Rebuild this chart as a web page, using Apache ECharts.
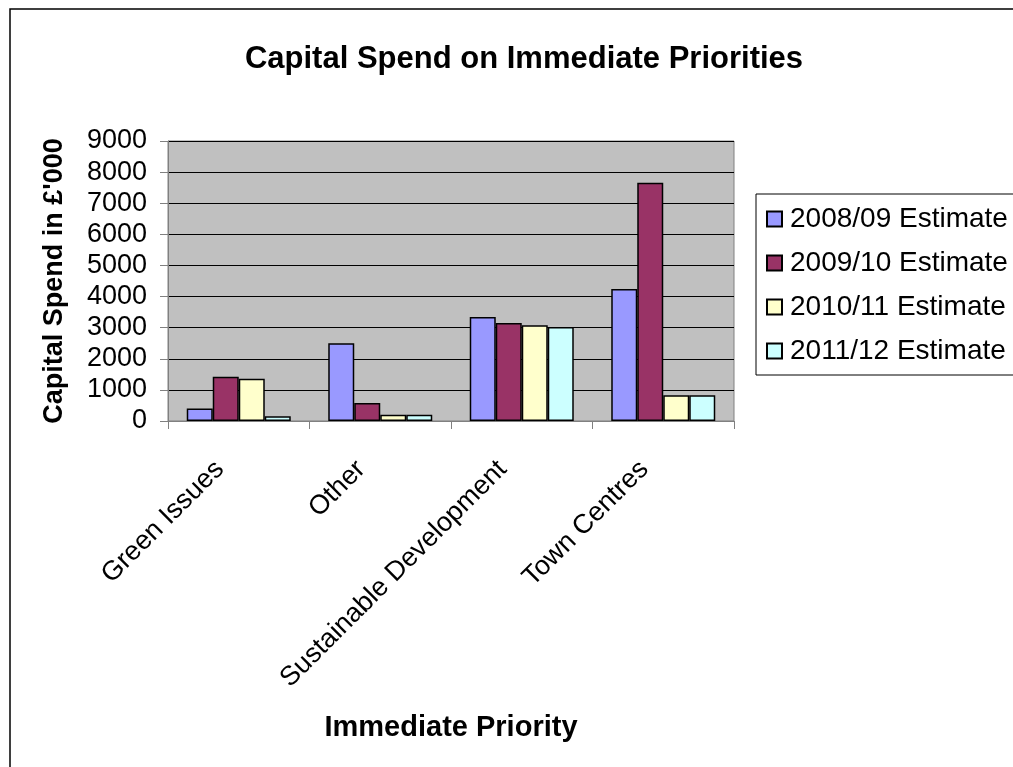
<!DOCTYPE html>
<html>
<head>
<meta charset="utf-8">
<script src="https://cdn.jsdelivr.net/npm/echarts@6/dist/echarts.min.js"></script>
<style>html,body{margin:0;padding:0;background:#fff}#c{width:1013px;height:767px}</style>
</head>
<body>
<div id="c"></div>
<script>
const categories = ['Green Issues', 'Other', 'Sustainable Development', 'Town Centres'];
const seriesNames = ['2008/09 Estimate', '2009/10 Estimate', '2010/11 Estimate', '2011/12 Estimate'];
const s2008 = [400, 2500, 3340, 4240];
const s2009 = [1420, 580, 3150, 7660];
const s2010 = [1360, 200, 3080, 830];
const s2011 = [150, 200, 3020, 830];
const colors = ['#9999FF', '#993366', '#FFFFCC', '#CCFFFF'];
const allData = [s2008, s2009, s2010, s2011];

const chart = echarts.init(document.getElementById('c'));
const font = 'Arial, "Liberation Sans", sans-serif';
chart.setOption({
  animation: false,
  backgroundColor: '#fff',
  textStyle: { fontFamily: font },
  title: {
    text: 'Capital Spend on Immediate Priorities',
    left: 519, top: 39, textAlign: 'center',
    textStyle: { fontSize: 31, fontWeight: 'bold', color: '#000', fontFamily: font }
  },
  graphic: [{
    type: 'rect', shape: { x: 10, y: 9, width: 1100, height: 900 },
    style: { fill: null, stroke: '#000', lineWidth: 1.5 }, silent: true
  }],
  legend: {
    orient: 'vertical', left: 756, top: 194,
    data: seriesNames,
    backgroundColor: '#fff',
    borderColor: '#000', borderWidth: 1,
    padding: [11, 10, 10, 10],
    itemGap: 16, itemWidth: 15, itemHeight: 15, icon: 'rect',
    textStyle: { fontSize: 28, color: '#000', fontFamily: font, padding: [0, 0, 0, 3] }
  },
  grid: {
    left: 168, top: 141, width: 566, height: 280,
    show: true, backgroundColor: '#C0C0C0', borderColor: '#808080', borderWidth: 1
  },
  xAxis: {
    type: 'category', data: categories,
    name: 'Immediate Priority', nameLocation: 'middle', nameGap: 292,
    nameTextStyle: { fontSize: 29, fontWeight: 'bold', color: '#000', fontFamily: font },
    axisLine: { lineStyle: { color: '#808080', width: 1 } },
    axisTick: { show: true, length: 8, lineStyle: { color: '#808080' } },
    axisLabel: { rotate: 45, fontSize: 27, color: '#000', margin: 25, padding: [0, 27, 0, 0], fontFamily: font, interval: 0 }
  },
  yAxis: {
    type: 'value', min: 0, max: 9000, interval: 1000,
    name: "Capital Spend in £'000", nameLocation: 'middle', nameGap: 100, nameRotate: 90,
    nameTextStyle: { fontSize: 27, fontWeight: 'bold', color: '#000', fontFamily: font },
    axisLine: { show: true, lineStyle: { color: '#808080', width: 1 } },
    axisTick: { show: true, length: 8, lineStyle: { color: '#808080' } },
    axisLabel: { fontSize: 27, color: '#000', margin: 21, fontFamily: font, formatter: v => String(v) },
    splitLine: { show: true, lineStyle: { color: '#000', width: 1 } }
  },
  series: seriesNames.map((n, i) => ({
    name: n, type: 'bar', data: allData[i],
    barGap: '0%', barCategoryGap: '26.5%',
    itemStyle: { color: colors[i], borderColor: '#000', borderWidth: 1.5 }
  }))
});
</script>
</body>
</html>
